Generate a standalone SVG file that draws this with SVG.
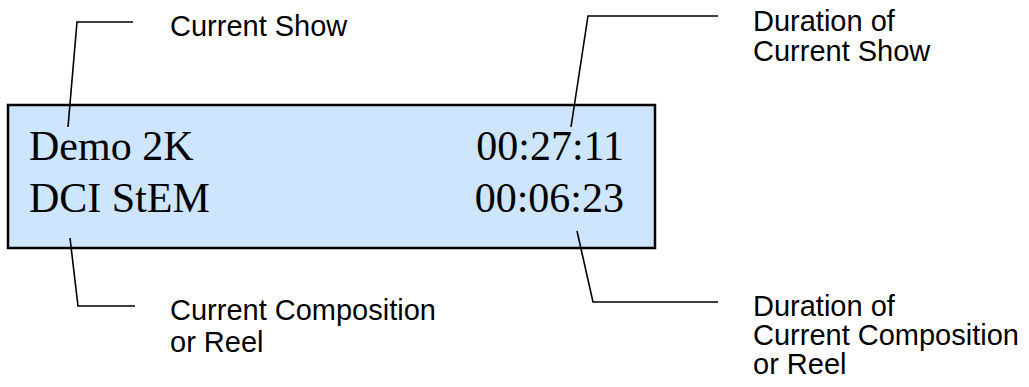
<svg xmlns="http://www.w3.org/2000/svg" width="1029" height="387" viewBox="0 0 1029 387">
  <style>
    .lbl { font-family: "Liberation Sans", Arial, sans-serif; font-size: 29px; fill: #000; }
    .lcd { font-family: "Liberation Serif", "Times New Roman", serif; font-size: 42px; fill: #000; }
    .lead { fill: none; stroke: #000; stroke-width: 1.6; }
  </style>
  <rect width="1029" height="387" fill="#fff"/>
  <g id="display">
    <rect x="8" y="105" width="647" height="143" fill="#cde5fd" stroke="#000" stroke-width="2.5"/>
    <text class="lcd" x="29" y="160">Demo 2K</text>
    <text class="lcd" x="29" y="212">DCI StEM</text>
    <text class="lcd" x="624" y="160" text-anchor="end">00:27:11</text>
    <text class="lcd" x="624" y="212" text-anchor="end">00:06:23</text>
  </g>
  <g id="connectors">
    <polyline class="lead" points="133,22 77,22 68,127"/>
    <polyline class="lead" points="718,16 588,16 571,127"/>
    <polyline class="lead" points="70,238 78,306 135,306"/>
    <polyline class="lead" points="577,231 593,302 718,302"/>
  </g>
  <g id="label-current-show">
    <text class="lbl" x="170" y="36">Current Show</text>
  </g>
  <g id="label-duration-show">
    <text class="lbl" x="753" y="31">Duration of</text>
    <text class="lbl" x="753" y="61">Current Show</text>
  </g>
  <g id="label-current-composition">
    <text class="lbl" x="170" y="320">Current Composition</text>
    <text class="lbl" x="170" y="352">or Reel</text>
  </g>
  <g id="label-duration-composition">
    <text class="lbl" x="753" y="316">Duration of</text>
    <text class="lbl" x="753" y="345">Current Composition</text>
    <text class="lbl" x="753" y="374">or Reel</text>
  </g>
</svg>
